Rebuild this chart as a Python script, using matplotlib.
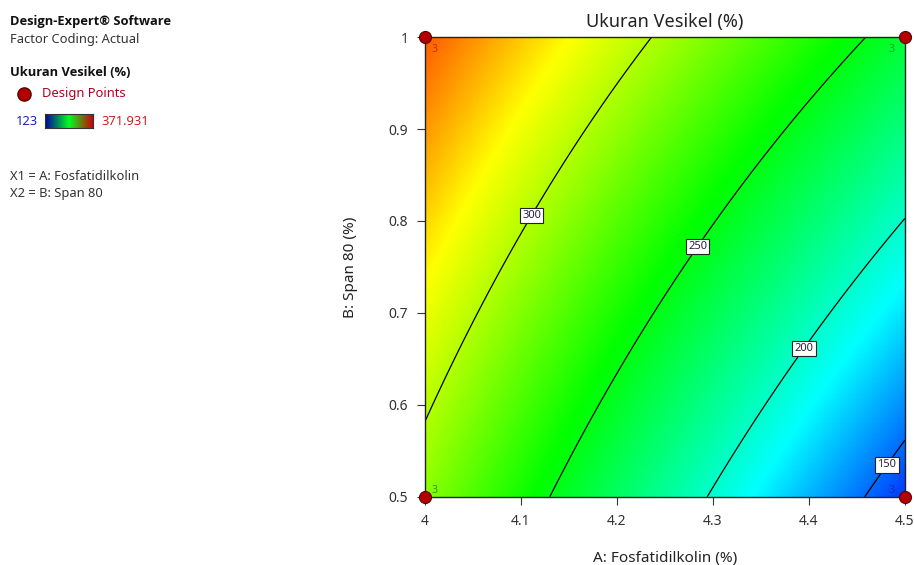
import numpy as np
import matplotlib.pyplot as plt
from matplotlib.colors import LinearSegmentedColormap

plt.rcParams['font.family'] = ['Noto Sans', 'DejaVu Sans']

# model for Ukuran Vesikel in coded factors a, b (-1..1)
coef_const = 255.15
coef_a = -66.1
coef_b = 41.75
coef_ab = 10.1

a_range = [4.0, 4.5]
b_range = [0.5, 1.0]
contour_levels = [150, 200, 250, 300]
label_pos = [(4.481, 0.535), (4.394, 0.662), (4.282, 0.774), (4.106, 0.809)]

design_a = [4.0, 4.0, 4.5, 4.5]
design_b = [0.5, 1.0, 0.5, 1.0]
design_reps = [3, 3, 3, 3]
rep_colors = ['#2a9a00', '#c03000', '#1030b0', '#20a020']

resp_min = 123
resp_max = 371.931

xticks = [4, 4.1, 4.2, 4.3, 4.4, 4.5]
yticks = [0.5, 0.6, 0.7, 0.8, 0.9, 1]

cmap = LinearSegmentedColormap.from_list(
    'de', [(0.0, '#0000ff'), (0.25, '#00ffff'), (0.53, '#00ff00'),
           (0.79, '#ffff00'), (1.0, '#ff0000')])

A = np.linspace(a_range[0], a_range[1], 300)
B = np.linspace(b_range[0], b_range[1], 300)
AA, BB = np.meshgrid(A, B)
ca = (AA - 4.25) / 0.25
cb = (BB - 0.75) / 0.25
Z = coef_const + coef_a * ca + coef_b * cb + coef_ab * ca * cb

fig = plt.figure(figsize=(9.14, 5.65), dpi=100)
ax = fig.add_axes([0.465, 0.1204, 0.525, 0.8141])
ax.imshow(Z, origin='lower', extent=[4, 4.5, 0.5, 1], aspect='auto',
          cmap=cmap, vmin=resp_min, vmax=resp_max, interpolation='bilinear')
cs = ax.contour(AA, BB, Z, levels=contour_levels, colors='black', linewidths=0.9)
labels = ax.clabel(cs, fmt='%d', fontsize=8, manual=label_pos, inline=False)
for t in labels:
    t.set_rotation(0)
    t.set_color('#222244')
    t.set_bbox(dict(facecolor='white', edgecolor='#222222', boxstyle='square,pad=0.2', linewidth=0.8))

ax.scatter(design_a, design_b, s=75, color='#b00000', edgecolor='#600000',
           linewidth=0.8, zorder=10, clip_on=False)
offsets = [(5, 3), (5, -11), (-12, 3), (-12, -11)]
for x, y, n, c, off in zip(design_a, design_b, design_reps, rep_colors, offsets):
    ax.annotate(str(n), (x, y), xytext=off, textcoords='offset points',
                fontsize=7.5, color=c, zorder=11)

ax.set_xlim(a_range)
ax.set_ylim(b_range)
ax.set_xticks(xticks)
ax.set_xticklabels(['4', '4.1', '4.2', '4.3', '4.4', '4.5'])
ax.set_yticks(yticks)
ax.set_yticklabels(['0.5', '0.6', '0.7', '0.8', '0.9', '1'])
ax.tick_params(direction='out', length=6, width=0.8, labelsize=10, colors='#333333', pad=6)
for s in ax.spines.values():
    s.set_linewidth(1.0)
    s.set_color('#222222')
ax.set_title('Ukuran Vesikel (%)', fontsize=13, color='#222222', pad=7)
ax.set_xlabel('A: Fosfatidilkolin (%)', fontsize=11, color='#222222', labelpad=16)
ax.set_ylabel('B: Span 80 (%)', fontsize=11, color='#222222', labelpad=22)

# left info panel
def fx(px):
    return px / 914

def fy(py):
    return 1 - py / 565

fs = 9.3
bold = ['Open Sans', 'DejaVu Sans']
fig.text(fx(10), fy(21), 'Design-Expert® Software', fontsize=fs, weight='bold', family=bold, va='center', color='#111111')
fig.text(fx(10), fy(39), 'Factor Coding: Actual', fontsize=fs, va='center', color='#333333')
fig.text(fx(10), fy(72), 'Ukuran Vesikel (%)', fontsize=fs, weight='bold', family=bold, va='center', color='#111111')
fig.lines.append(plt.Line2D([fx(24)], [fy(94)], marker='o', markersize=9.5,
                            color='#b00000', markeredgecolor='#600000', transform=fig.transFigure))
fig.text(fx(42), fy(94), 'Design Points', fontsize=fs, va='center', color='#b00020')
fig.text(fx(16), fy(121), '123', fontsize=fs, va='center', color='#2020c0')
cax = fig.add_axes([fx(45), fy(128), fx(48), 14 / 565])
grad = np.linspace(0, 1, 200).reshape(1, -1)
cax.imshow(grad, aspect='auto', cmap=LinearSegmentedColormap.from_list(
    'bar', ['#0000a0', '#00ff20', '#d00000']))
cax.set_xticks([])
cax.set_yticks([])
for s in cax.spines.values():
    s.set_linewidth(0.8)
    s.set_color('#333333')
fig.text(fx(101), fy(121), '371.931', fontsize=fs, va='center', color='#d02020')
fig.text(fx(10), fy(176), 'X1 = A: Fosfatidilkolin', fontsize=fs, va='center', color='#333333')
fig.text(fx(10), fy(193), 'X2 = B: Span 80', fontsize=fs, va='center', color='#333333')

fig.savefig('out.png', dpi=100)
